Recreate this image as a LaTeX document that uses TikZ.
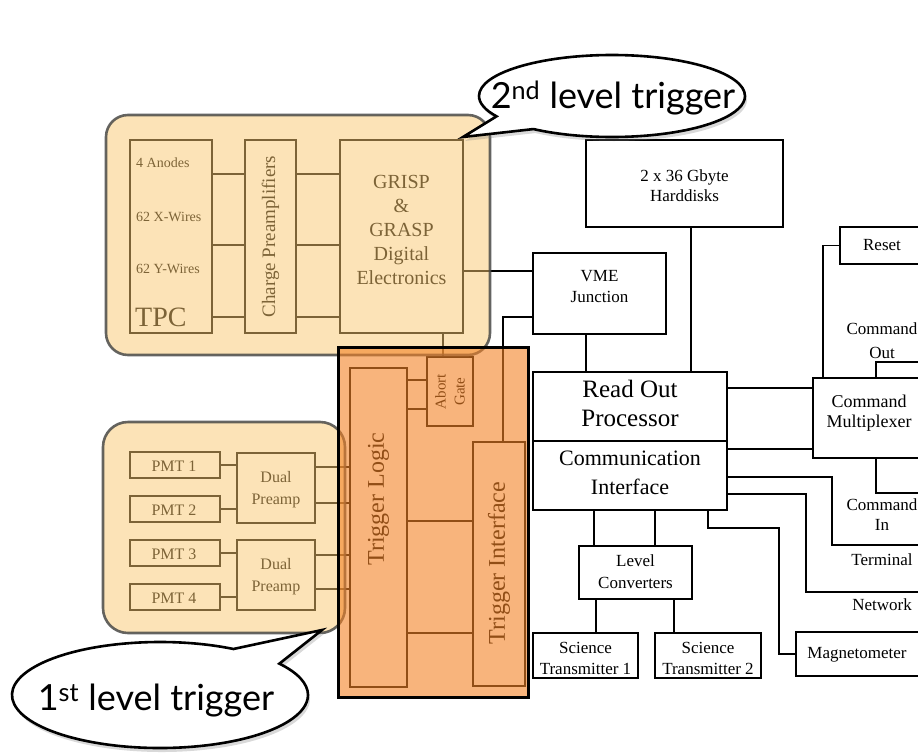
\documentclass[tikz,border=0pt]{standalone}
\usepackage{fontspec}
\setmainfont{Liberation Serif}
\newfontfamily\bubblefont{Lato}
\usetikzlibrary{shapes.callouts,shadows,fit,calc}
\newcommand\fsz[2]{\fontsize{#1}{#2}\selectfont}
\definecolor{grpfill}{HTML}{F9C76F}
\definecolor{grpline}{HTML}{4A4A48}
\definecolor{trgfill}{HTML}{F38225}
\begin{document}
\begin{tikzpicture}[x=1pt,y=-1pt,
  box/.style={draw=black,line width=1.2pt,inner sep=0pt,align=center},
  txt/.style={inner sep=0pt,align=center},
  ln/.style={draw=black,line width=1.2pt},
  grp/.style={fill=grpfill,fill opacity=0.5,draw=grpline,draw opacity=0.85,line width=2.6pt,rounded corners=22pt,inner sep=0pt},
  trg/.style={fill=trgfill,fill opacity=0.6,draw=black,line width=3pt,inner sep=0pt},
  bubble/.style={ellipse callout,draw=black,fill=white,line width=2.6pt,inner sep=0pt,callout pointer arc=24,
    drop shadow={opacity=0.3,shadow xshift=2pt,shadow yshift=-4pt}},
  btxt/.style={inner sep=0pt,font=\bubblefont\fsz{36}{40}}
]
\useasboundingbox (0,0) rectangle (918,755);
\clip (0,0) rectangle (918,755);

% ---------- TPC chain ----------
\node[box,fit={(130,140) (212,333)}] (TPC) {};
\node[txt,anchor=west,font=\fsz{14}{16}] (an) at (136,163) {4 Anodes};
\node[txt,anchor=west,font=\fsz{14}{16}] (xw) at (136,217) {62 X-Wires};
\node[txt,anchor=west,font=\fsz{14}{16}] (yw) at (136,269) {62 Y-Wires};
\node[txt,anchor=west,font=\fsz{28}{30}] (tpct) at (135,317) {TPC};
\node[box,fit={(245,140) (296,333)}] (CP) {};
\node[txt,rotate=90,font=\fsz{19}{22}] (cpt) at (CP.center) {Charge Preamplifiers};
\node[box,fit={(340,140) (463,333)}] (GR) {};
\node[txt,font=\fsz{20}{24}] (grt) at (401.5,230) {GRISP\\\&\\GRASP\\Digital\\Electronics};
\foreach \yy in {174,245,317}{
  \draw[ln] (TPC.east |- 0,\yy) -- (CP.west |- 0,\yy);
  \draw[ln] (CP.east |- 0,\yy) -- (GR.west |- 0,\yy);
}

% ---------- PMT chain ----------
\node[box,fit={(130,452) (220,478)}] (P1) {};
\node[box,fit={(130,496) (220,522)}] (P2) {};
\node[box,fit={(130,540) (220,566)}] (P3) {};
\node[box,fit={(130,584) (220,610)}] (P4) {};
\node[txt,font=\fsz{16}{18}] (p1t) at (174,466) {PMT 1};
\node[txt,font=\fsz{16}{18}] (p2t) at (174,510) {PMT 2};
\node[txt,font=\fsz{16}{18}] (p3t) at (174,554) {PMT 3};
\node[txt,font=\fsz{16}{18}] (p4t) at (174,598) {PMT 4};
\node[box,fit={(237,453) (315,523)}] (D1) {};
\node[box,fit={(237,540) (315,610)}] (D2) {};
\node[txt,font=\fsz{16}{22}] (d1t) at (276,490) {Dual\\Preamp};
\node[txt,font=\fsz{16}{22}] (d2t) at (276,577) {Dual\\Preamp};
\draw[ln] (P1.east) -- (D1.west |- P1.east);
\draw[ln] (P2.east) -- (D1.west |- P2.east);
\draw[ln] (P3.east) -- (D2.west |- P3.east);
\draw[ln] (P4.east) -- (D2.west |- P4.east);

% ---------- Trigger ----------
\node[box,fit={(350,368) (407,687)}] (TL) {};
\node[txt,rotate=90,font=\fsz{24}{28}] (tlt) at (378.5,499) {Trigger Logic};
\node[box,fit={(427,357) (473,426)}] (AG) {};
\node[txt,rotate=90,font=\fsz{15}{19}] (agt) at (AG.center) {Abort\\Gate};
\node[box,fit={(473,442) (525,686)}] (TI) {};
\node[txt,rotate=90,font=\fsz{24}{28}] (tit) at (499,563) {Trigger Interface};
\draw[ln] (D1.east |- 0,467) -- (TL.west |- 0,467);
\draw[ln] (D1.east |- 0,503) -- (TL.west |- 0,503);
\draw[ln] (D2.east |- 0,555) -- (TL.west |- 0,555);
\draw[ln] (D2.east |- 0,589) -- (TL.west |- 0,589);
\draw[ln] (TL.east |- 0,380) -- (AG.west |- 0,380);
\draw[ln] (TL.east |- 0,409) -- (AG.west |- 0,409);
\draw[ln] (TL.east |- 0,521) -- (TI.west |- 0,521);
\draw[ln] (TL.east |- 0,633) -- (TI.west |- 0,633);
\draw[ln] (GR.south -| 443,0) -- (AG.north -| 443,0);

% ---------- Right side ----------
\node[box,fit={(586,140) (783,227)}] (HD) {};
\node[txt,font=\fsz{17}{20}] (hdt) at (684.5,186) {2 x 36 Gbyte\\Harddisks};
\node[box,fit={(533,253) (666,334)}] (VME) {};
\node[txt,font=\fsz{17}{21}] (vmet) at (599.5,287) {VME\\Junction};
\node[box,fit={(533,372) (727,441)}] (ROP) {};
\node[txt,font=\fsz{25}{29}] (ropt) at (630,403) {Read Out\\Processor};
\node[box,fit={(533,441) (727,510)}] (CI) {};
\node[txt,font=\fsz{22}{29}] (cit) at (630,473) {Communication\\Interface};
\node[box,fit={(813,378) (926,458)}] (CM) {};
\node[txt,font=\fsz{18}{20}] (cmt) at (869,413) {Command\\Multiplexer};
\node[box,fit={(840,227) (926,264)}] (RS) {};
\node[txt,font=\fsz{17}{20}] (rst) at (882,245) {Reset};
\node[box,fit={(579,546) (692,599)}] (LC) {};
\node[txt,font=\fsz{17}{22}] (lct) at (635.5,572) {Level\\Converters};
\node[box,fit={(533,633) (638,678)}] (ST1) {};
\node[box,fit={(655,633) (761,678)}] (ST2) {};
\node[txt,font=\fsz{17}{21}] (st1t) at (585.5,658) {Science\\Transmitter 1};
\node[txt,font=\fsz{17}{21}] (st2t) at (708,658) {Science\\Transmitter 2};
\node[box,fit={(796,632) (926,676)}] (MG) {};
\node[txt,font=\fsz{17}{20}] (mgt) at (857,655) {Magnetometer};

\node[txt,font=\fsz{17}{24}] (cot) at (882,341) {Command\\Out};
\node[txt,font=\fsz{17}{20}] (cintx) at (882,515) {Command\\In};
\node[txt,font=\fsz{17}{20}] (termt) at (882,560) {Terminal};
\node[txt,font=\fsz{17}{20}] (nett) at (882,605) {Network};

\coordinate (coE) at (922,362);
\coordinate (ciE) at (922,493);
\coordinate (tmE) at (922,545);
\coordinate (nwE) at (922,592);

\draw[ln] (GR.east |- 0,271) -- (VME.west |- 0,271);
\draw[ln] (VME.west |- 0,317) -| (TI.north -| 503,0);
\draw[ln] (HD.south -| 691,0) -- (ROP.north -| 691,0);
\draw[ln] (VME.south -| 586,0) -- (ROP.north -| 586,0);
\draw[ln] (ROP.east |- 0,388) -- (CM.west |- 0,388);
\draw[ln] (CI.east |- 0,449) -- (CM.west |- 0,449);
\draw[ln] (RS.west) -| (CM.north -| 823,0);
\draw[ln] (CM.north -| 876,0) |- (coE);
\draw[ln] (CM.south -| 876,0) |- (ciE);
\draw[ln] (CI.east |- 0,477) -| (832,545) -- (tmE);
\draw[ln] (CI.east |- 0,494) -| (806,592) -- (nwE);
\draw[ln] (CI.south -| 708,0) |- (779,528) |- (MG.west);
\draw[ln] (CI.south -| 594,0) -- (LC.north -| 594,0);
\draw[ln] (CI.south -| 655,0) -- (LC.north -| 655,0);
\draw[ln] (LC.south -| 596,0) -- (ST1.north -| 596,0);
\draw[ln] (LC.south -| 674,0) -- (ST2.north -| 674,0);

% ---------- Highlight overlays ----------
\node[grp,fit={(106,115) (490,355)}] (tpcgrp) {};
\node[grp,fit={(103,422) (345,633)},rounded corners=25pt] (pmtgrp) {};
\node[trg,fit={(338,347) (528,697)}] (trggrp) {};

% ---------- Speech bubbles ----------
\coordinate (tip2) at (463,137);
\coordinate (tip1) at (322,630);
\node[bubble,callout absolute pointer={(tip2)},minimum width=266pt,minimum height=82pt] (B2) at (612,96) {};
\node[btxt] (B2t) at (613,98) {2\textsuperscript{nd} level trigger};
\node[bubble,callout absolute pointer={(tip1)},minimum width=296pt,minimum height=106pt] (B1) at (160,695) {};
\node[btxt] (B1t) at (156,701) {1\textsuperscript{st} level trigger};
\end{tikzpicture}
\end{document}
